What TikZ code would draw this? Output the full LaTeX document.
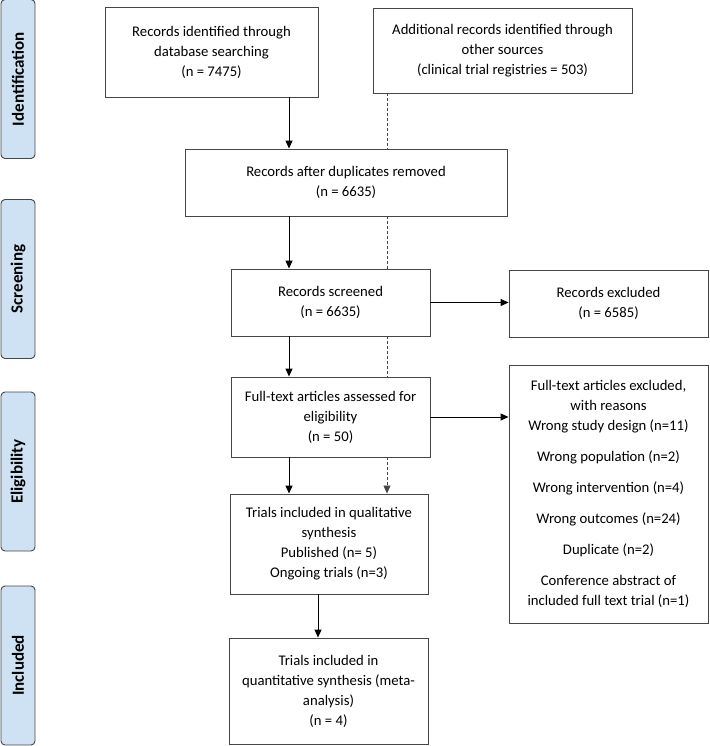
\documentclass[tikz,border=0pt]{standalone}
\usepackage{fontspec}
\setmainfont{Carlito}
\usetikzlibrary{arrows.meta}
\definecolor{sideblue}{RGB}{207,226,243}
\definecolor{edge}{RGB}{70,70,70}
\tikzset{box/.style = {draw=edge, line width=0.9pt, fill=white, align=center, inner sep=2pt, font=\fontsize{14.7}{20}\selectfont}}
\tikzset{side/.style = {draw=edge, line width=0.9pt, fill=sideblue, rounded corners=4pt, rotate=90, minimum width=159pt, minimum height=34pt, font=\bfseries\fontsize{17}{20}\selectfont}}
\tikzset{arr/.style = {line width=1pt, -{Triangle[length=8pt,width=7pt]}}}
\tikzset{dotline/.style = {draw=edge, line width=0.6pt, dash pattern=on 3pt off 2pt}}

\begin{document}
\begin{tikzpicture}[x=1pt, y=-1pt]
    \useasboundingbox (0,0) rectangle (709,746);
    % stages
    \node[side] (ident) at (18,79) {Identification};
    \node[side] (scree) at (18,279) {Screening};
    \node[side] (eligi) at (18,471.5) {Eligibility};
    \node[side] (inclu) at (18,665.5) {Included};
    % boxes
    \node[box, minimum width=213pt, minimum height=90pt] (rec) at (211.5,52) {Records identified through\\database searching\\(n = 7475)};
    \node[box, minimum width=259pt, minimum height=85pt] (add) at (502.5,50.5) {Additional records identified through\\other sources\\(clinical trial registries = 503)};
    \node[box, minimum width=322pt, minimum height=67pt] (dup) at (346,182.5) {Records after duplicates removed\\(n = 6635)};
    \node[box, minimum width=199pt, minimum height=67pt] (scrn) at (330.5,302.5) {Records screened\\(n = 6635)};
    \node[box, minimum width=199pt, minimum height=67pt] (exc) at (608.5,303.5) {Records excluded\\(n = 6585)};
    \node[box, minimum width=199pt, minimum height=80pt] (full) at (330.5,417) {Full-text articles assessed for\\eligibility\\(n = 50)};
    \node[box, minimum width=199pt, minimum height=258pt] (why) at (608.5,494) {Full-text articles excluded,\\with reasons\\Wrong study design (n=11)\\[11pt]Wrong population (n=2)\\[11pt]Wrong intervention (n=4)\\[11pt]Wrong outcomes (n=24)\\[11pt]Duplicate (n=2)\\[11pt]Conference abstract of\\included full text trial (n=1)};
    \node[box, minimum width=198pt, minimum height=100pt] (qual) at (329,544) {Trials included in qualitative\\synthesis\\Published (n= 5)\\Ongoing trials (n=3)};
    \node[box, minimum width=199pt, minimum height=106pt] (meta) at (328.5,691) {Trials included in\\quantitative synthesis (meta-\\analysis)\\(n = 4)};
    % connectors
    \coordinate (c1) at (289,0);
    \coordinate (c2) at (387,0);
    \coordinate (c3) at (318,0);
    \draw[arr] (rec.south -| c1) -- (dup.north -| c1);
    \draw[arr] (dup.south -| c1) -- (scrn.north -| c1);
    \draw[arr] (scrn.south -| c1) -- (full.north -| c1);
    \draw[arr] (full.south -| c1) -- (qual.north -| c1);
    \draw[arr] (qual.south -| c3) -- (meta.north -| c3);
    \draw[arr] (scrn.east) -- (scrn.east -| exc.west);
    \draw[arr] (full.east) -- (full.east -| why.west);
    \draw[dotline] (add.south -| c2) -- (dup.north -| c2);
    \draw[dotline] (dup.south -| c2) -- (scrn.north -| c2);
    \draw[dotline] (scrn.south -| c2) -- (full.north -| c2);
    \draw[dotline, -{Triangle[length=8pt,width=7pt]}] (full.south -| c2) -- (qual.north -| c2);
\end{tikzpicture}
\end{document}
